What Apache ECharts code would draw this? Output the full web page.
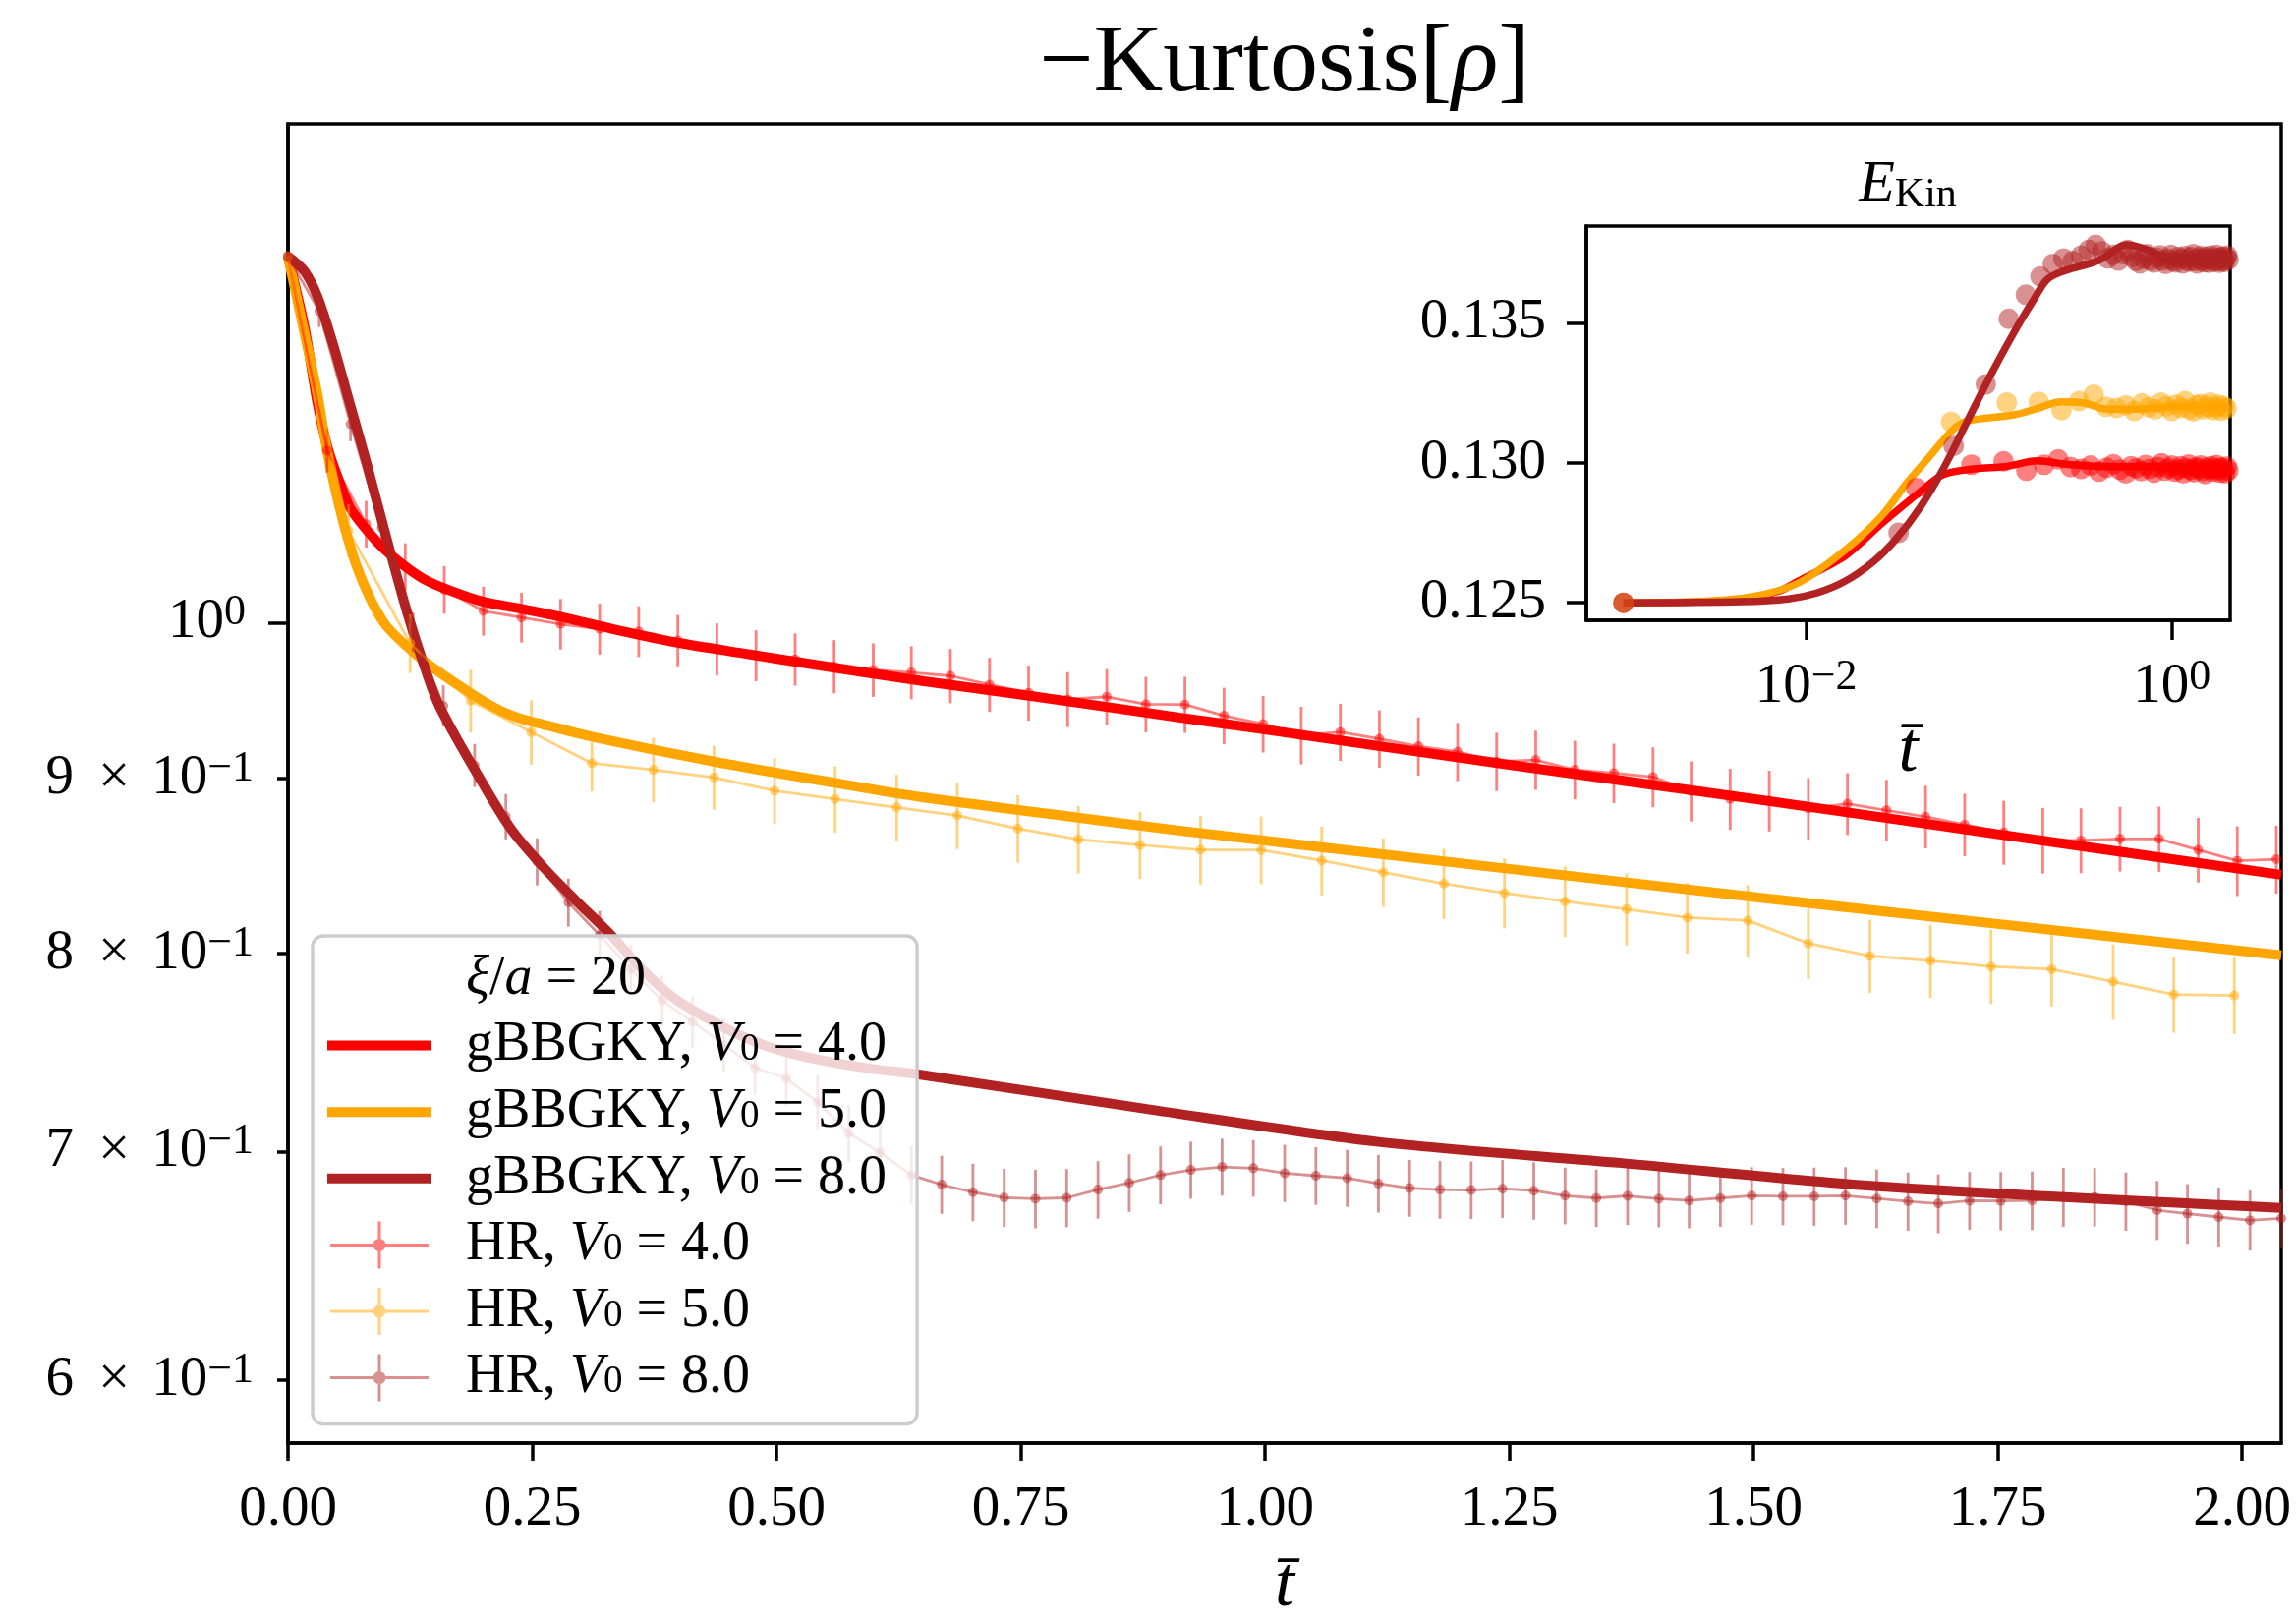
<!DOCTYPE html>
<html>
<head>
<meta charset="utf-8">
<title>Kurtosis</title>
<script src="https://cdn.jsdelivr.net/npm/echarts@6.0.0/dist/echarts.min.js"></script>
<style>
html, body { margin: 0; padding: 0; background: #ffffff; }
#main { width: 2336px; height: 1652px; }
</style>
</head>
<body>
<div id="main"></div>
<script>
// ---- tick positions ----
var xTicks = [0, 0.25, 0.5, 0.75, 1.0, 1.25, 1.5, 1.75, 2.0];
var yMajorTicks = [1.0];
var yMinorTicks = [0.6, 0.7, 0.8, 0.9];
var insetXTicks = [0.01, 1];
var insetYTicks = [0.125, 0.130, 0.135];

// ---- gBBGKY, main panel (-Kurtosis vs t) ----
var tG4 = [0, 0.017, 0.030, 0.041, 0.054, 0.064, 0.081, 0.098, 0.121, 0.141, 0.165, 0.198, 0.238, 0.282, 0.332, 0.399, 0.466, 0.530, 0.651, 0.757, 0.912, 0.993, 1.250, 1.505, 1.750, 2.040];
var kurtG4 = [1.280, 1.220, 1.160, 1.124, 1.097, 1.080, 1.064, 1.051, 1.038, 1.029, 1.022, 1.0145, 1.0094, 1.0034, 0.9957, 0.9865, 0.9794, 0.9729, 0.9612, 0.9520, 0.9380, 0.9310, 0.9085, 0.8875, 0.8670, 0.8436];

var tG5 = [0, 0.017, 0.030, 0.041, 0.057, 0.074, 0.098, 0.128, 0.155, 0.188, 0.205, 0.222, 0.240, 0.260, 0.312, 0.436, 0.560, 0.651, 0.780, 0.914, 1.200, 1.505, 1.750, 2.040];
var kurtG5 = [1.280, 1.215, 1.167, 1.119, 1.069, 1.032, 1.000, 0.9804, 0.967, 0.9530, 0.9465, 0.9410, 0.9370, 0.9338, 0.9258, 0.9105, 0.8975, 0.8887, 0.8789, 0.8690, 0.8502, 0.8308, 0.8161, 0.7991];

var tG8 = [0, 0.017, 0.0305, 0.047, 0.064, 0.081, 0.098, 0.121, 0.138, 0.155, 0.195, 0.228, 0.262, 0.295, 0.329, 0.3625, 0.396, 0.430, 0.463, 0.500, 0.550, 0.600, 0.644, 0.879, 1.114, 1.365, 1.627, 2.040];
var kurtG8 = [1.280, 1.267, 1.245, 1.204, 1.157, 1.112, 1.066, 1.009, 0.974, 0.945, 0.9016, 0.8703, 0.8476, 0.8289, 0.8109, 0.7914, 0.7759, 0.7655, 0.757, 0.750, 0.744, 0.740, 0.7375, 0.7204, 0.7047, 0.6946, 0.6838, 0.6739];

// ---- HR, main panel (points with error bars) ----
var tHR4 = [0, 0.040, 0.080, 0.120, 0.160, 0.200, 0.239, 0.279, 0.319, 0.359, 0.399, 0.439, 0.479, 0.519, 0.559, 0.599, 0.638, 0.678, 0.718, 0.758, 0.798, 0.838, 0.878, 0.918, 0.958, 0.998, 1.037, 1.077, 1.117, 1.157, 1.197, 1.237, 1.277, 1.317, 1.357, 1.397, 1.436, 1.476, 1.516, 1.556, 1.596, 1.636, 1.676, 1.716, 1.756, 1.796, 1.835, 1.875, 1.915, 1.955, 1.995, 2.035];
var kurtHR4 = [1.280, 1.123, 1.0686, 1.0384, 1.0224, 1.0078, 1.0034, 0.9990, 0.9957, 0.9940, 0.9880, 0.9822, 0.9780, 0.9755, 0.9708, 0.9686, 0.9669, 0.9647, 0.9590, 0.9537, 0.9495, 0.9512, 0.9464, 0.9462, 0.9391, 0.9339, 0.9268, 0.9288, 0.9246, 0.9200, 0.9166, 0.9105, 0.9115, 0.9055, 0.9035, 0.9011, 0.8926, 0.8878, 0.8868, 0.8821, 0.8850, 0.8811, 0.8773, 0.8726, 0.8680, 0.8634, 0.8634, 0.8643, 0.8643, 0.8579, 0.8516, 0.8525];
var errHR4 = [0, 0.0166, 0.0168, 0.0165, 0.0164, 0.0166, 0.0168, 0.0170, 0.0172, 0.0170, 0.0171, 0.0173, 0.0168, 0.0172, 0.0174, 0.0175, 0.0173, 0.0176, 0.0175, 0.0177, 0.0176, 0.0178, 0.0177, 0.0179, 0.0179, 0.0178, 0.0180, 0.0179, 0.0179, 0.0181, 0.0180, 0.0179, 0.0182, 0.0179, 0.0181, 0.0182, 0.0181, 0.0183, 0.0182, 0.0183, 0.0184, 0.0183, 0.0185, 0.0184, 0.0187, 0.0191, 0.0189, 0.0188, 0.0190, 0.0187, 0.0200, 0.0195];

var tHR5 = [0, 0.062, 0.125, 0.187, 0.249, 0.311, 0.374, 0.436, 0.498, 0.560, 0.623, 0.685, 0.747, 0.809, 0.872, 0.934, 0.996, 1.058, 1.121, 1.183, 1.245, 1.307, 1.370, 1.432, 1.494, 1.556, 1.619, 1.681, 1.743, 1.805, 1.868, 1.930, 1.992];
var kurtHR5 = [1.280, 1.064, 0.986, 0.9485, 0.9288, 0.9095, 0.9055, 0.9008, 0.8928, 0.8878, 0.8828, 0.8780, 0.8703, 0.8640, 0.8607, 0.8579, 0.8578, 0.8517, 0.8450, 0.8386, 0.8333, 0.8286, 0.8243, 0.8196, 0.8180, 0.8055, 0.7987, 0.7961, 0.7930, 0.7916, 0.7850, 0.7782, 0.7777];
var errHR5 = [0, 0.0190, 0.0195, 0.0201, 0.0202, 0.0172, 0.0197, 0.0195, 0.0199, 0.0198, 0.0197, 0.0196, 0.0198, 0.0197, 0.0195, 0.0198, 0.0196, 0.0197, 0.0195, 0.0198, 0.0196, 0.0197, 0.0199, 0.0196, 0.0198, 0.0193, 0.0197, 0.0196, 0.0198, 0.0197, 0.0199, 0.0198, 0.0200];

var tHR8 = [0, 0.032, 0.064, 0.096, 0.128, 0.159, 0.191, 0.223, 0.255, 0.287, 0.319, 0.351, 0.383, 0.414, 0.446, 0.478, 0.510, 0.542, 0.574, 0.606, 0.638, 0.669, 0.701, 0.733, 0.765, 0.797, 0.829, 0.861, 0.893, 0.924, 0.956, 0.988, 1.020, 1.052, 1.084, 1.116, 1.148, 1.179, 1.211, 1.243, 1.275, 1.307, 1.339, 1.371, 1.403, 1.434, 1.466, 1.498, 1.530, 1.562, 1.594, 1.626, 1.658, 1.689, 1.721, 1.753, 1.785, 1.817, 1.849, 1.881, 1.913, 1.944, 1.976, 2.008, 2.040];
var kurtHR8 = [1.280, 1.2335, 1.1431, 1.066, 0.9935, 0.9454, 0.9082, 0.8774, 0.8511, 0.8280, 0.8100, 0.7914, 0.7750, 0.7640, 0.7523, 0.7407, 0.7354, 0.7238, 0.7088, 0.6995, 0.6890, 0.6846, 0.6811, 0.6786, 0.6781, 0.6785, 0.6823, 0.6854, 0.6890, 0.6914, 0.6928, 0.6922, 0.6899, 0.6887, 0.6876, 0.6851, 0.6830, 0.6823, 0.6821, 0.6827, 0.6818, 0.6795, 0.6784, 0.6794, 0.6781, 0.6773, 0.6784, 0.6795, 0.6792, 0.6792, 0.6795, 0.6782, 0.6769, 0.6759, 0.6772, 0.6771, 0.6773, 0.6789, 0.6789, 0.6769, 0.6729, 0.6713, 0.6698, 0.6683, 0.6692];
var errHR8 = [0, 0.0130, 0.0131, 0.0131, 0.0132, 0.0131, 0.0132, 0.0134, 0.0135, 0.0134, 0.0133, 0.0134, 0.0133, 0.0132, 0.0134, 0.0133, 0.0133, 0.0132, 0.0134, 0.0133, 0.0134, 0.0134, 0.0132, 0.0133, 0.0134, 0.0133, 0.0132, 0.0133, 0.0134, 0.0133, 0.0133, 0.0132, 0.0133, 0.0134, 0.0132, 0.0133, 0.0131, 0.0133, 0.0132, 0.0133, 0.0132, 0.0130, 0.0131, 0.0132, 0.0129, 0.0126, 0.0130, 0.0132, 0.0131, 0.0133, 0.0132, 0.0134, 0.0133, 0.0134, 0.0132, 0.0133, 0.0134, 0.0135, 0.0134, 0.0133, 0.0134, 0.0135, 0.0134, 0.0135, 0.0134];

// ---- inset: kinetic energy vs t (log t) ----
var INSET_T0 = 0.001; // t = 0 is drawn at 1e-3 on the log axis
var tInG4 = [0.001, 0.00244, 0.00442, 0.0071, 0.009, 0.0163, 0.0261, 0.0419, 0.0562, 0.0851, 0.1216, 0.184, 0.278, 0.502, 2.04];
var ekinG4 = [0.12500, 0.12503, 0.12514, 0.12542, 0.12577, 0.12667, 0.12785, 0.12896, 0.12958, 0.12979, 0.12986, 0.13007, 0.12993, 0.12986, 0.12986];
var tInG5 = [0.001, 0.00244, 0.00498, 0.009, 0.0163, 0.0261, 0.0351, 0.0471, 0.0634, 0.0757, 0.1368, 0.1841, 0.2472, 0.3319, 0.4467, 0.6761, 1.222, 2.04];
var ekinG5 = [0.12500, 0.12504, 0.12521, 0.12570, 0.12688, 0.12813, 0.12924, 0.13021, 0.13118, 0.13149, 0.13171, 0.13194, 0.13218, 0.13213, 0.13191, 0.13192, 0.13201, 0.13201];
var tInG8 = [0.001, 0.00442, 0.00798, 0.0114, 0.0163, 0.0232, 0.0311, 0.0419, 0.0562, 0.0757, 0.1019, 0.1368, 0.1734, 0.207, 0.2472, 0.3972, 0.5662, 0.7603, 1.023, 1.297, 2.04];
var ekinG8 = [0.12500, 0.12504, 0.12514, 0.12535, 0.12577, 0.12646, 0.12729, 0.12840, 0.12979, 0.13146, 0.13312, 0.13465, 0.13577, 0.13653, 0.13681, 0.13722, 0.13778, 0.13757, 0.13718, 0.13722, 0.13736];

var ekinHR4 = [0.12500, 0.12910, 0.12993, 0.13005, 0.12972, 0.12993, 0.13012, 0.12985, 0.12978, 0.12990, 0.12968, 0.12982, 0.12995, 0.12975, 0.12962, 0.12988, 0.12980, 0.12970, 0.12992, 0.12978, 0.12965, 0.12985, 0.12998, 0.12972, 0.12980, 0.12990, 0.12968, 0.12976, 0.12988, 0.12962, 0.12980, 0.12994, 0.12975, 0.12966, 0.12984, 0.12978, 0.12990, 0.12970, 0.12960, 0.12982, 0.12976, 0.12988, 0.12968, 0.12980, 0.12992, 0.12974, 0.12965, 0.12983, 0.12977, 0.12962, 0.12986, 0.12972];
var ekinHR5 = [0.12500, 0.13146, 0.13215, 0.13218, 0.13188, 0.13220, 0.13243, 0.13200, 0.13196, 0.13205, 0.13185, 0.13212, 0.13198, 0.13190, 0.13215, 0.13202, 0.13185, 0.13208, 0.13196, 0.13220, 0.13192, 0.13183, 0.13205, 0.13210, 0.13190, 0.13200, 0.13215, 0.13188, 0.13197, 0.13208, 0.13186, 0.13202, 0.13194];
var ekinHR8 = [0.12500, 0.12750, 0.13060, 0.13280, 0.13514, 0.13600, 0.13665, 0.13710, 0.13729, 0.13720, 0.13740, 0.13760, 0.13778, 0.13755, 0.13730, 0.13742, 0.13722, 0.13745, 0.13760, 0.13735, 0.13720, 0.13712, 0.13730, 0.13745, 0.13722, 0.13715, 0.13732, 0.13741, 0.13722, 0.13710, 0.13728, 0.13742, 0.13720, 0.13715, 0.13735, 0.13728, 0.13712, 0.13738, 0.13725, 0.13718, 0.13734, 0.13745, 0.13720, 0.13712, 0.13730, 0.13738, 0.13722, 0.13716, 0.13735, 0.13728, 0.13714, 0.13740, 0.13726, 0.13718, 0.13732, 0.13742, 0.13720, 0.13714, 0.13730, 0.13736, 0.13722, 0.13717, 0.13733, 0.13740, 0.13725];

// ---- styles ----
var FONT = '"Liberation Serif", "DejaVu Serif", serif';
var RED = '#ff0000', ORANGE = '#ffa500', BROWN = '#b22222';

var NAME_XI = 'ξ/a = 20';
var NAME_G4 = 'gBBGKY, V0 = 4.0';
var NAME_G5 = 'gBBGKY, V0 = 5.0';
var NAME_G8 = 'gBBGKY, V0 = 8.0';
var NAME_H4 = 'HR, V0 = 4.0';
var NAME_H5 = 'HR, V0 = 5.0';
var NAME_H8 = 'HR, V0 = 8.0';

// legend handles: invisible moveTo's fix the box at 136x48
var ICON_BOX = 'M0 0M136 48';
var lineIcon = 'path://' + ICON_BOX + 'M0 19L106 19L106 29L0 29Z';
var hrIcon = 'path://' + ICON_BOX + 'M3 22.5L103 22.5L103 25.5L3 25.5Z' +
    'M51.5 0L54.5 0L54.5 48L51.5 48Z' +
    'M59.5 24A6.5 6.5 0 1 1 46.5 24A6.5 6.5 0 1 1 59.5 24Z';
var blankIcon = 'path://' + ICON_BOX;

function zip(t, v) {
    return t.map(function (x, i) { return [x, v[i]]; });
}

function zip3(t, v, e) {
    return t.map(function (x, i) { return [x, v[i], e[i]]; });
}

// "9 × 10^-1" style labels for log axes
function powerLabel(value) {
    var e = Math.floor(Math.log10(value) + 1e-9);
    var m = Math.round(value / Math.pow(10, e));
    var exp = (e < 0 ? '\u2212' : '') + Math.abs(e);
    if (m === 1) {
        return '{b|10}{p|' + exp + '}';
    }
    return '{b|' + m + '}{x|\u00d7}{b|10}{p|' + exp + '}';
}

var powerRich = {
    b: { fontFamily: FONT, fontSize: 57, color: '#000', lineHeight: 64 },
    x: { fontFamily: FONT, fontSize: 57, color: '#000', lineHeight: 64, padding: [0, 22, 0, 25] },
    p: { fontFamily: FONT, fontSize: 44, color: '#000', lineHeight: 44, verticalAlign: 'top' }
};

function thickLine(name, t, v, color) {
    return {
        name: name, type: 'line', xAxisIndex: 0, yAxisIndex: 0,
        data: zip(t, v), symbol: 'none', smooth: 0.3, z: 2,
        lineStyle: { color: color, width: 10 }, itemStyle: { color: color }
    };
}

function hrLine(name, t, v, color) {
    return {
        name: name, type: 'line', xAxisIndex: 0, yAxisIndex: 0,
        data: zip(t, v), symbol: 'circle', symbolSize: 10, showAllSymbol: true, z: 3,
        lineStyle: { color: color, width: 2.8, opacity: 0.5 },
        itemStyle: { color: color, opacity: 0.5 }
    };
}

function hrBars(name, t, v, err, color) {
    return {
        name: name, type: 'custom', xAxisIndex: 0, yAxisIndex: 0,
        data: zip3(t, v, err), encode: { x: 0, y: 1 }, z: 3, silent: true,
        renderItem: function (params, api) {
            var x = api.value(0), y = api.value(1), e = api.value(2);
            if (!e) {
                return null;
            }
            var lo = api.coord([x, y - e]);
            var hi = api.coord([x, y + e]);
            return {
                type: 'line',
                shape: { x1: lo[0], y1: lo[1], x2: hi[0], y2: hi[1] },
                style: { stroke: color, lineWidth: 2.8, opacity: 0.5 }
            };
        }
    };
}

function insetLine(name, t, v, color) {
    return {
        name: name, type: 'line', xAxisIndex: 1, yAxisIndex: 2,
        data: zip(t, v), symbol: 'none', smooth: 0.3, z: 5,
        lineStyle: { color: color, width: 7.5 }
    };
}

function insetDots(name, t, v, color) {
    var tt = t.slice();
    tt[0] = INSET_T0;
    return {
        name: name, type: 'scatter', xAxisIndex: 1, yAxisIndex: 2,
        data: zip(tt, v), symbolSize: 21, z: 6,
        itemStyle: { color: color, opacity: 0.5 }
    };
}

var axisLineStyle = { color: '#000', width: 3.5 };
var tickLabelStyle = { color: '#000', fontFamily: FONT, fontSize: 57 };

var option = {
    animation: false,
    backgroundColor: '#ffffff',
    title: [
        {
            text: '{a|\u2212Kurtosis[}{b|\u03c1}{a|]}',
            left: 1307, top: 16, textAlign: 'center', padding: 0,
            textStyle: {
                fontWeight: 'normal',
                rich: {
                    a: { fontFamily: FONT, fontSize: 98, fontWeight: 'normal', color: '#000', lineHeight: 100 },
                    b: { fontFamily: FONT, fontSize: 98, fontWeight: 'normal', fontStyle: 'italic', color: '#000', lineHeight: 100 }
                }
            }
        },
        {
            text: '{a|E}{b|Kin}',
            left: 1941, top: 156, textAlign: 'center', padding: 0,
            textStyle: {
                fontWeight: 'normal',
                rich: {
                    a: { fontFamily: FONT, fontSize: 60, fontWeight: 'normal', fontStyle: 'italic', color: '#000', lineHeight: 64 },
                    b: { fontFamily: FONT, fontSize: 42, fontWeight: 'normal', color: '#000', lineHeight: 42, verticalAlign: 'bottom' }
                }
            }
        }
    ],
    grid: [
        { left: 293, top: 126, width: 2028, height: 1342, outerBoundsMode: 'none', show: true, borderColor: '#000', borderWidth: 3.5, backgroundColor: 'transparent' },
        { left: 1614, top: 230, width: 655, height: 401, outerBoundsMode: 'none', show: true, borderColor: '#000', borderWidth: 3.5, backgroundColor: '#ffffff' }
    ],
    xAxis: [
        {
            type: 'value', gridIndex: 0, min: 0, max: 2.04,
            name: 't\u0304', nameLocation: 'middle', nameGap: 110,
            nameTextStyle: { color: '#000', fontFamily: FONT, fontSize: 72, fontStyle: 'italic', lineHeight: 72 },
            axisLine: { show: true, onZero: false, lineStyle: axisLineStyle },
            axisTick: { show: true, inside: false, length: 18, customValues: xTicks, lineStyle: axisLineStyle },
            axisLabel: Object.assign({ customValues: xTicks, margin: 40, formatter: function (v) { return v.toFixed(2); } }, tickLabelStyle),
            splitLine: { show: false }
        },
        {
            type: 'log', logBase: 10, gridIndex: 1, min: 6.27e-4, max: 2.083,
            name: 't\u0304', nameLocation: 'middle', nameGap: 98,
            nameTextStyle: { color: '#000', fontFamily: FONT, fontSize: 72, fontStyle: 'italic', lineHeight: 72 },
            axisLine: { show: true, onZero: false, lineStyle: axisLineStyle },
            axisTick: { show: true, inside: false, length: 20, customValues: insetXTicks, lineStyle: axisLineStyle },
            axisLabel: { customValues: insetXTicks, margin: 36, formatter: powerLabel, rich: powerRich },
            splitLine: { show: false }, minorTick: { show: false }
        }
    ],
    yAxis: [
        {
            type: 'log', logBase: 10, gridIndex: 0, min: 0.5751, max: 1.3996, position: 'left', offset: 0,
            axisLine: { show: true, onZero: false, lineStyle: axisLineStyle },
            axisTick: { show: true, inside: false, length: 20, customValues: yMajorTicks, lineStyle: axisLineStyle },
            axisLabel: { customValues: yMajorTicks, margin: 43, formatter: powerLabel, rich: powerRich },
            splitLine: { show: false }, minorTick: { show: false }
        },
        {
            type: 'log', logBase: 10, gridIndex: 0, min: 0.5751, max: 1.3996, position: 'left', offset: 0,
            axisLine: { show: false },
            axisTick: { show: true, inside: false, length: 11, customValues: yMinorTicks, lineStyle: axisLineStyle },
            axisLabel: { customValues: yMinorTicks, margin: 35, formatter: powerLabel, rich: powerRich },
            splitLine: { show: false }, minorTick: { show: false }
        },
        {
            type: 'value', gridIndex: 1, min: 0.124375, max: 0.13845, position: 'left',
            axisLine: { show: true, onZero: false, lineStyle: axisLineStyle },
            axisTick: { show: true, inside: false, length: 20, customValues: insetYTicks, lineStyle: axisLineStyle },
            axisLabel: Object.assign({ customValues: insetYTicks, margin: 41, formatter: function (v) { return v.toFixed(3); } }, tickLabelStyle),
            splitLine: { show: false }
        }
    ],
    legend: {
        orient: 'vertical', left: 318, top: 952,
        padding: [16, 31, 19, 15],
        itemWidth: 136, itemHeight: 48, itemGap: 11.6,
        backgroundColor: 'rgba(255,255,255,0.8)',
        borderColor: '#cccccc', borderWidth: 3.4, borderRadius: 11,
        selectedMode: false,
        itemStyle: { borderWidth: 0 },
        textStyle: {
            color: '#000', fontFamily: FONT, fontSize: 56,
            rich: {
                r: { fontFamily: FONT, fontSize: 56, color: '#000', lineHeight: 48 },
                i: { fontFamily: FONT, fontSize: 56, fontStyle: 'italic', color: '#000', lineHeight: 48 },
                s: { fontFamily: FONT, fontSize: 39, color: '#000', lineHeight: 36, verticalAlign: 'bottom' }
            }
        },
        formatter: function (name) {
            if (name === NAME_XI) {
                return '{i|\u03be}{r|/}{i|a}{r| = 20}';
            }
            var m = name.match(/^(.*), V0 = (.*)$/);
            return '{r|' + m[1] + ', }{i|V}{s|0}{r| = ' + m[2] + '}';
        },
        data: [
            { name: NAME_XI, icon: blankIcon, itemStyle: { color: 'rgba(0,0,0,0)', borderWidth: 0 } },
            { name: NAME_G4, icon: lineIcon, itemStyle: { color: RED, borderWidth: 0, opacity: 1 } },
            { name: NAME_G5, icon: lineIcon, itemStyle: { color: ORANGE, borderWidth: 0, opacity: 1 } },
            { name: NAME_G8, icon: lineIcon, itemStyle: { color: BROWN, borderWidth: 0, opacity: 1 } },
            { name: NAME_H4, icon: hrIcon, itemStyle: { color: RED, borderWidth: 0, opacity: 0.5 } },
            { name: NAME_H5, icon: hrIcon, itemStyle: { color: ORANGE, borderWidth: 0, opacity: 0.5 } },
            { name: NAME_H8, icon: hrIcon, itemStyle: { color: BROWN, borderWidth: 0, opacity: 0.5 } }
        ]
    },
    series: [
        thickLine(NAME_G4, tG4, kurtG4, RED),
        thickLine(NAME_G5, tG5, kurtG5, ORANGE),
        thickLine(NAME_G8, tG8, kurtG8, BROWN),
        hrLine(NAME_H4, tHR4, kurtHR4, RED),
        hrLine(NAME_H5, tHR5, kurtHR5, ORANGE),
        hrLine(NAME_H8, tHR8, kurtHR8, BROWN),
        hrBars(NAME_H4, tHR4, kurtHR4, errHR4, RED),
        hrBars(NAME_H5, tHR5, kurtHR5, errHR5, ORANGE),
        hrBars(NAME_H8, tHR8, kurtHR8, errHR8, BROWN),
        { name: NAME_XI, type: 'line', data: [], xAxisIndex: 0, yAxisIndex: 0 },
        insetLine('Ekin gBBGKY 4', tInG4, ekinG4, RED),
        insetLine('Ekin gBBGKY 5', tInG5, ekinG5, ORANGE),
        insetLine('Ekin gBBGKY 8', tInG8, ekinG8, BROWN),
        insetDots('Ekin HR 4', tHR4, ekinHR4, RED),
        insetDots('Ekin HR 5', tHR5, ekinHR5, ORANGE),
        insetDots('Ekin HR 8', tHR8, ekinHR8, BROWN)
    ]
};

var chart = echarts.init(document.getElementById('main'));
chart.setOption(option);
</script>
</body>
</html>
